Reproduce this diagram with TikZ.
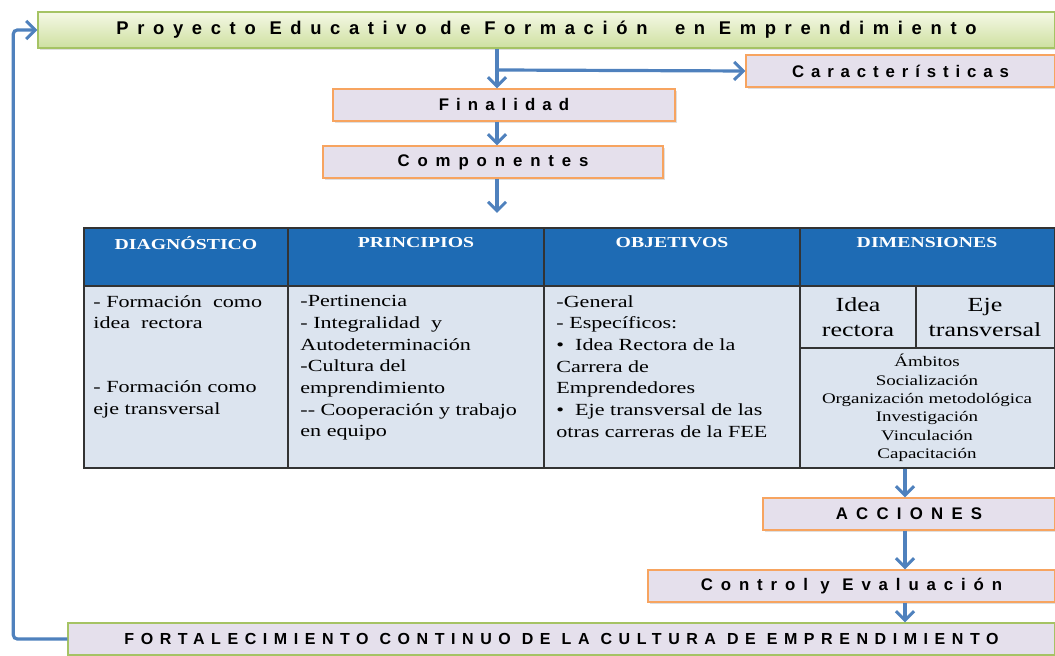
\documentclass[tikz,border=0pt]{standalone}
\usepackage{fontspec}
\usetikzlibrary{positioning}
\usetikzlibrary{arrows.meta}
\usetikzlibrary{shadows}
\newfontfamily\boxfont{Liberation Sans}
\newfontfamily\tabfont[FakeStretch=1.3]{Liberation Serif}
\definecolor{flow}{RGB}{79,129,189}
\definecolor{lav}{RGB}{229,224,236}
\definecolor{orng}{RGB}{247,164,96}
\definecolor{grn}{RGB}{165,195,100}
\definecolor{titletop}{RGB}{245,248,230}
\definecolor{titlebot}{RGB}{206,224,160}
\definecolor{hdrblue}{RGB}{30,107,180}
\definecolor{cellblue}{RGB}{220,228,239}
\def\thickness{1.6pt}
\newcommand{\spaced}[2]{{\addfontfeature{LetterSpace=#1}#2}}
\tikzset{
flowarrow/.style={draw=flow, line width=\thickness,
	-{Straight Barb[length=4.5pt,width=9pt,line width=1.5pt]}},
lavbox/.style 2 args={draw=#1, fill=lav, line width=0.7pt,
	minimum width=#2, minimum height=16pt, inner sep=0pt,
	font=\boxfont\bfseries\fontsize{8.4}{10}\selectfont,
	drop shadow={shadow xshift=1pt,shadow yshift=-1pt,opacity=0.25}},
titlebox/.style={draw=grn, top color=titletop, bottom color=titlebot,
	line width=0.7pt, minimum width=508.5pt, minimum height=18pt, inner sep=0pt,
	font=\boxfont\bfseries\fontsize{9.2}{11}\selectfont,
	drop shadow={shadow xshift=1pt,shadow yshift=-1pt,opacity=0.25}},
hdr/.style={text=white, font=\tabfont\bfseries\fontsize{7.6}{9}\selectfont},
cell/.style={anchor=north west, inner sep=0pt, align=left,
	font=\tabfont\fontsize{8.5}{10.85}\selectfont},
}

\begin{document}
\begin{tikzpicture}[x=0.5pt, y=-0.5pt]
\useasboundingbox (0,0) rectangle (1055,656);
%Place the boxes
\node[titlebox] (proj) at (546.5,30) {\spaced{47}{Proyecto Educativo de Formación~ en Emprendimiento}};
\node[lavbox={orng}{154.5pt}] (car) at (900.5,71) {\spaced{41}{Características}};
\node[lavbox={orng}{171pt}] (fin) at (504,105) {\spaced{42}{Finalidad}};
\node[lavbox={orng}{170pt}] (comp) at (493,162) {\spaced{47}{Componentes}};
\node[lavbox={orng}{146pt}] (acc) at (909,514) {\spaced{49}{ACCIONES}};
\node[lavbox={orng}{203.5pt}] (ctrl) at (851.5,586) {\spaced{47}{Control y Evaluación}};
\node[lavbox={grn}{493.5pt}, font=\boxfont\bfseries\fontsize{8}{10}\selectfont] (fort) at (561.5,639)
	{\spaced{41}{FORTALECIMIENTO CONTINUO DE LA CULTURA DE EMPRENDIMIENTO}};

%The table
\node[draw=black!80, fill=cellblue, line width=0.6pt, minimum width=485.5pt, minimum height=120pt,
	inner sep=0pt, anchor=north west] (tab) at (84,228) {};
\fill[hdrblue] (84,228) rectangle (1055,286);
\draw[black!80, line width=0.6pt] (84,228) rectangle (1055,468);
\draw[black!80, line width=0.6pt] (84,286) -- (1055,286);
\foreach \x in {288,544,800} {
	\draw[black!80, line width=0.6pt] (\x,228) -- (\x,468);
}
\draw[black!80, line width=0.6pt] (800,348) -- (1055,348);
\draw[black!80, line width=0.6pt] (916,286) -- (916,348);

\node[hdr] (h1) at (186,243) {DIAGNÓSTICO};
\node[hdr] (h2) at (416,243) {PRINCIPIOS};
\node[hdr] (h3) at (672,243) {OBJETIVOS};
\node[hdr] (h4) at (927,243) {DIMENSIONES};

\node[cell] (c1) at (93,295) {- Formación~ como\\idea~ rectora\\[21pt]- Formación como\\eje transversal};
\node[cell] (c2) at (300,295) {-Pertinencia\\- Integralidad~ y\\Autodeterminación\\-Cultura del\\emprendimiento\\-- Cooperación y trabajo\\en equipo};
\node[cell] (c3) at (556,295) {-General\\- Específicos:\\\textbullet~ Idea Rectora de la\\Carrera de\\Emprendedores\\\textbullet~ Eje transversal de las\\otras carreras de la FEE};
\node[align=center, inner sep=0pt, font=\tabfont\fontsize{10}{12.5}\selectfont] (d1) at (858,317) {Idea\\rectora};
\node[align=center, inner sep=0pt, font=\tabfont\fontsize{10}{12.5}\selectfont] (d2) at (985,317) {Eje\\transversal};
\node[align=center, inner sep=0pt, font=\tabfont\fontsize{7.3}{9.2}\selectfont] (d3) at (927,408)
	{Ámbitos\\Socialización\\Organización metodológica\\Investigación\\Vinculación\\Capacitación};

%Connectors
\coordinate (sp) at (497,0);
\coordinate (sp2) at (905,0);
\coordinate (br) at (497,70);
\coordinate (compend) at (497,213);
\draw[flowarrow] (proj.south -| sp) -- (fin.north -| sp);
\draw[flowarrow] (br) -- (car.west);
\draw[flowarrow] (fin.south -| sp) -- (comp.north -| sp);
\draw[flowarrow] (comp.south -| sp) -- (compend);
\draw[flowarrow] (tab.south -| sp2) -- (acc.north -| sp2);
\draw[flowarrow] (acc.south -| sp2) -- (ctrl.north -| sp2);
\draw[flowarrow] (ctrl.south -| sp2) -- (fort.north -| sp2);
\draw[flowarrow, rounded corners=2pt] (fort.west) -- ++(-54,0) |- (proj.west);

\end{tikzpicture}
\end{document}
